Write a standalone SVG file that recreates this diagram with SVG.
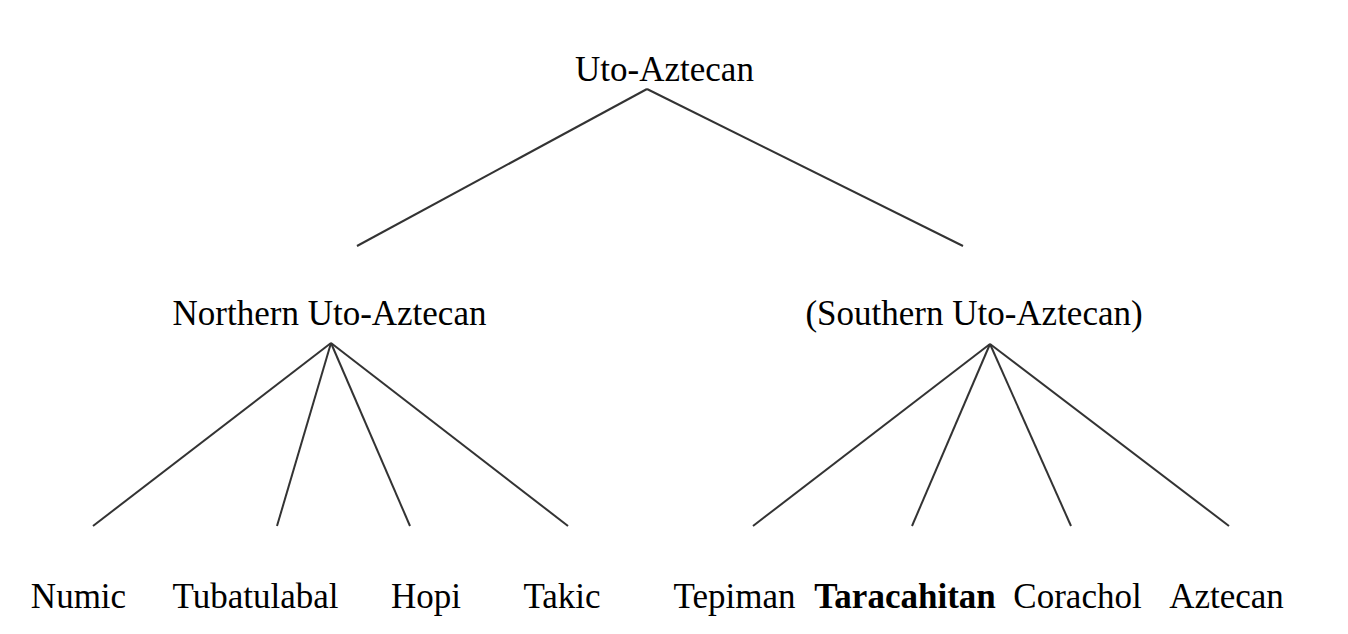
<svg xmlns="http://www.w3.org/2000/svg" width="1348" height="634" viewBox="0 0 1348 634">
<style>
text{font-family:"Liberation Serif","Times New Roman",serif;font-size:35px;fill:#000;text-anchor:middle}
.b{font-weight:bold}
.e{stroke:#333;stroke-width:2;fill:none}
</style>
<rect width="1348" height="634" fill="#fff"/>
<g id="connectors">
<line class="e" x1="647" y1="89" x2="357" y2="246"/>
<line class="e" x1="647" y1="89" x2="963" y2="246"/>
<line class="e" x1="331" y1="343" x2="93" y2="526"/>
<line class="e" x1="331" y1="343" x2="277" y2="526"/>
<line class="e" x1="331" y1="343" x2="410" y2="526"/>
<line class="e" x1="331" y1="343" x2="568" y2="526"/>
<line class="e" x1="990" y1="344" x2="753" y2="526"/>
<line class="e" x1="990" y1="344" x2="912" y2="526"/>
<line class="e" x1="990" y1="344" x2="1071" y2="526"/>
<line class="e" x1="990" y1="344" x2="1229" y2="526"/>
</g>
<g id="uto-aztecan"><text x="664.5" y="81">Uto-Aztecan</text></g>
<g id="northern"><text x="329.5" y="325">Northern Uto-Aztecan</text></g>
<g id="southern"><text x="974" y="325">(Southern Uto-Aztecan)</text></g>
<g id="numic"><text x="78.5" y="608">Numic</text></g>
<g id="tubatulabal"><text x="255.5" y="608">Tubatulabal</text></g>
<g id="hopi"><text x="426" y="608">Hopi</text></g>
<g id="takic"><text x="562" y="608">Takic</text></g>
<g id="tepiman"><text x="734.5" y="608">Tepiman</text></g>
<g id="taracahitan"><text class="b" x="905" y="608">Taracahitan</text></g>
<g id="corachol"><text x="1077.5" y="608">Corachol</text></g>
<g id="aztecan"><text x="1226.5" y="608">Aztecan</text></g>
</svg>
